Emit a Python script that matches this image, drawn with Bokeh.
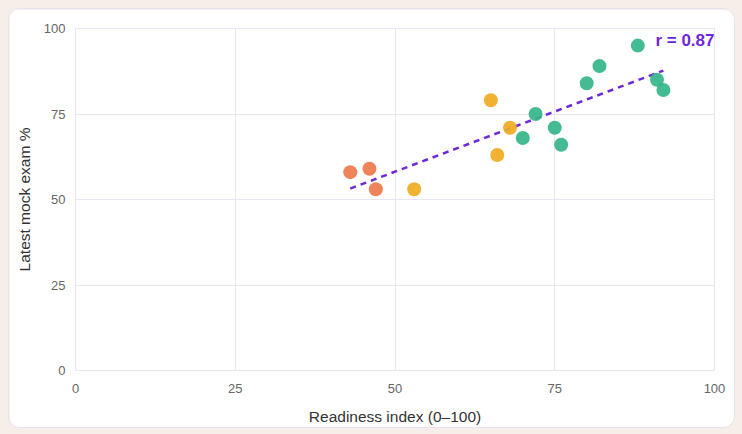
from bokeh.plotting import figure
from bokeh.models import ColumnDataSource, Range1d, FixedTicker, Label
from bokeh.embed import file_html
from bokeh.resources import INLINE

# data
x_orange = [43, 46, 47]
y_orange = [58, 59, 53]
x_yellow = [53, 65, 68, 66]
y_yellow = [53, 79, 71, 63]
x_green = [70, 72, 75, 76, 80, 82, 88, 91, 92]
y_green = [68, 75, 71, 66, 84, 89, 95, 85, 82]
trend_x = [43, 92]
trend_y = [53.2, 87.7]
r_label = "r = 0.87"
ticks = [0, 25, 50, 75, 100]

FONT = "Liberation Sans"

p = figure(frame_width=639, frame_height=342, output_backend="svg", toolbar_location=None,
           x_range=Range1d(0, 100), y_range=Range1d(0, 100),
           min_border_left=66, min_border_right=20, min_border_top=19, min_border_bottom=55)
p.background_fill_color = "white"
p.border_fill_color = "white"
p.outline_line_color = "#ebe5f3"
p.outline_line_width = 1

for ax in (p.xaxis, p.yaxis):
    ax.ticker = FixedTicker(ticks=ticks)
    ax.axis_line_color = None
    ax.major_tick_line_color = None
    ax.minor_tick_line_color = None
    ax.major_label_text_font = FONT
    ax.major_label_text_font_size = "13px"
    ax.major_label_text_color = "#666666"
    ax.axis_label_text_font = FONT
    ax.axis_label_text_font_size = "15.5px"
    ax.axis_label_text_color = "#333333"
    ax.axis_label_text_font_style = "normal"

p.xaxis.axis_label = "Readiness index (0–100)"
p.yaxis.axis_label = "Latest mock exam %"
p.xaxis.major_label_standoff = 7
p.yaxis.major_label_standoff = 4
p.xaxis.axis_label_standoff = 12
p.yaxis.axis_label_standoff = 8

p.grid.grid_line_color = "#ebe5f3"
p.grid.grid_line_width = 1
p.xgrid.ticker = FixedTicker(ticks=ticks)
p.ygrid.ticker = FixedTicker(ticks=ticks)

p.line(trend_x, trend_y, line_color="#6d28d9", line_width=2.5, line_dash="6 5")

for xs, ys, c in ((x_orange, y_orange, "#ee7a4c"),
                  (x_yellow, y_yellow, "#f0ab23"),
                  (x_green, y_green, "#34b589")):
    src = ColumnDataSource(dict(x=xs, y=ys))
    p.scatter("x", "y", source=src, size=14, fill_color=c, fill_alpha=0.92,
              line_color=None)

p.add_layout(Label(x=100, y=96.5, text=r_label, text_align="right", text_baseline="middle",
                   text_font=FONT, text_font_size="17px", text_font_style="bold",
                   text_color="#6d28d9", x_offset=0))

p.styles = {"border-radius": "12px", "border": "1px solid #e7e0ee", "overflow": "hidden"}

html = file_html(p, INLINE)
html = html.replace("<head>", "<head><style>html,body{background:#f6eee8;} body{margin:0 !important;padding:8px !important;}</style>", 1)
open("out.html", "w").write(html)
